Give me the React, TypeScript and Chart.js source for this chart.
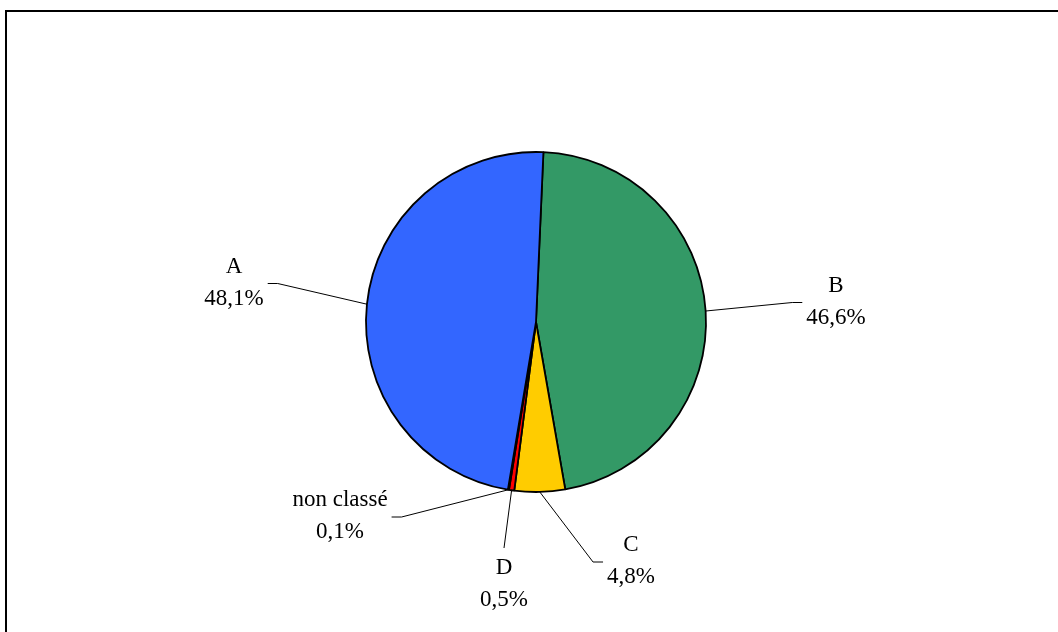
import React, { useEffect, useRef } from "react";
import { Chart, registerables } from "chart.js";

Chart.register(...registerables);

// ---- data (clockwise from the top) ----
const CATEGORIES = ["B", "C", "D", "non classé", "A"];
const SHARES = [46.6, 4.8, 0.5, 0.1, 48.1];

// ---- styles ----
const COLORS = ["#339966", "#FFCC00", "#FF0000", "#9999FF", "#3366FF"];
// label block offsets from the pie centre and side of the leader line
const LABEL_LAYOUT = [
  { dx: 300, dy: -20.5, side: "right" },
  { dx: 95, dy: 239, side: "right" },
  { dx: -32, dy: 262, side: "bottom" },
  { dx: -196, dy: 194, side: "left" },
  { dx: -302, dy: -39.5, side: "left" },
];
const FONT = '23px "Liberation Serif", "Times New Roman", serif';
const LINE_GAP = 32;

const fmt = (v: number) => v.toFixed(1).replace(".", ",") + "%";

const framePlugin = {
  id: "frame",
  beforeDraw(chart: any) {
    const ctx = chart.ctx;
    ctx.save();
    ctx.fillStyle = "#fff";
    ctx.fillRect(0, 0, chart.width, chart.height);
    ctx.strokeStyle = "#000";
    ctx.lineWidth = 2;
    ctx.beginPath();
    ctx.moveTo(6, chart.height + 5);
    ctx.lineTo(6, 11);
    ctx.lineTo(chart.width + 5, 11);
    ctx.stroke();
    ctx.restore();
  },
};

const labelPlugin = {
  id: "pieLabels",
  afterDraw(chart: any) {
    const ctx = chart.ctx;
    const meta = chart.getDatasetMeta(0);
    ctx.save();
    ctx.font = FONT;
    ctx.fillStyle = "#000";
    ctx.textAlign = "center";
    ctx.textBaseline = "middle";
    meta.data.forEach((arc: any, i: number) => {
      const p = arc.getProps(["x", "y", "startAngle", "endAngle", "outerRadius"], true);
      const mid = (p.startAngle + p.endAngle) / 2;
      const ex = p.x + Math.cos(mid) * p.outerRadius;
      const ey = p.y + Math.sin(mid) * p.outerRadius;
      const lay = LABEL_LAYOUT[i];
      const cx = p.x + lay.dx;
      const cy = p.y + lay.dy;
      const l1 = CATEGORIES[i];
      const l2 = fmt(SHARES[i]);
      const w = Math.max(ctx.measureText(l1).width, ctx.measureText(l2).width);

      ctx.strokeStyle = "#000";
      ctx.lineWidth = 1;
      ctx.beginPath();
      ctx.moveTo(ex, ey);
      if (lay.side === "left") {
        const r = cx + w / 2;
        ctx.lineTo(r + 14, cy + 1);
        ctx.lineTo(r + 4, cy + 1);
      } else if (lay.side === "right") {
        const l = cx - w / 2;
        ctx.lineTo(l - 14, cy + 1);
        ctx.lineTo(l - 4, cy + 1);
      } else {
        ctx.lineTo(cx, cy - 36);
      }
      ctx.stroke();

      ctx.fillText(l1, cx, cy - LINE_GAP / 2);
      ctx.fillText(l2, cx, cy + LINE_GAP / 2);
    });
    ctx.restore();
  },
};

export default function App() {
  const ref = useRef<HTMLCanvasElement | null>(null);

  useEffect(() => {
    if (!ref.current) return;
    const chart = new Chart(ref.current, {
      type: "pie",
      data: {
        labels: CATEGORIES,
        datasets: [
          {
            data: SHARES,
            backgroundColor: COLORS,
            borderColor: "#000",
            borderWidth: 1.8,
          },
        ],
      },
      options: {
        responsive: false,
        animation: false,
        rotation: 2.5,
        radius: 170,
        layout: { padding: { left: 366, right: 352, top: 152, bottom: 140 } },
        plugins: {
          legend: { display: false },
          tooltip: { enabled: false },
        },
      } as any,
      plugins: [framePlugin, labelPlugin],
    });
    return () => chart.destroy();
  }, []);

  return (
    <div style={{ position: "fixed", left: 0, top: 0, width: 1058, height: 632, background: "#fff" }}>
      <canvas ref={ref} width={1058} height={632} style={{ display: "block", width: 1058, height: 632 }} />
    </div>
  );
}
